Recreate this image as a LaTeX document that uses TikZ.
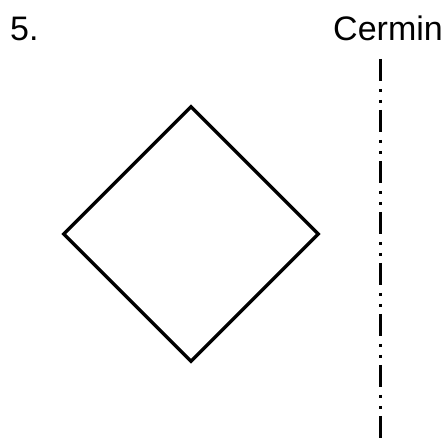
\documentclass[tikz,border=0pt]{standalone}
\usepackage{fontspec}
\setmainfont{Liberation Sans}
\usetikzlibrary{shapes.geometric}
\begin{document}
\begin{tikzpicture}[x=1pt,y=1pt,
  lbl/.style={inner sep=0pt, font=\fontsize{34}{40}\selectfont},
  mirrorline/.style={line width=2.8pt, dash pattern=on 22pt off 8pt on 2.8pt off 8.2pt on 2.8pt off 7.2pt},
  shapebox/.style={draw, diamond, aspect=1, minimum width=256pt, minimum height=256pt, inner sep=0pt, line width=3.4pt}]
\useasboundingbox (0,0) rectangle (443,445);
\node[lbl, anchor=base west] (num) at (10,404) {5.};
\node[lbl, anchor=base east] (title) at (443,404) {Cermin};
\node[shapebox] (dia) at (191,211) {};
\coordinate (mtop) at (380.7,386);
\coordinate (mbot) at (380.7,0);
\draw[mirrorline] (mtop) -- (mbot);
\end{tikzpicture}
\end{document}
